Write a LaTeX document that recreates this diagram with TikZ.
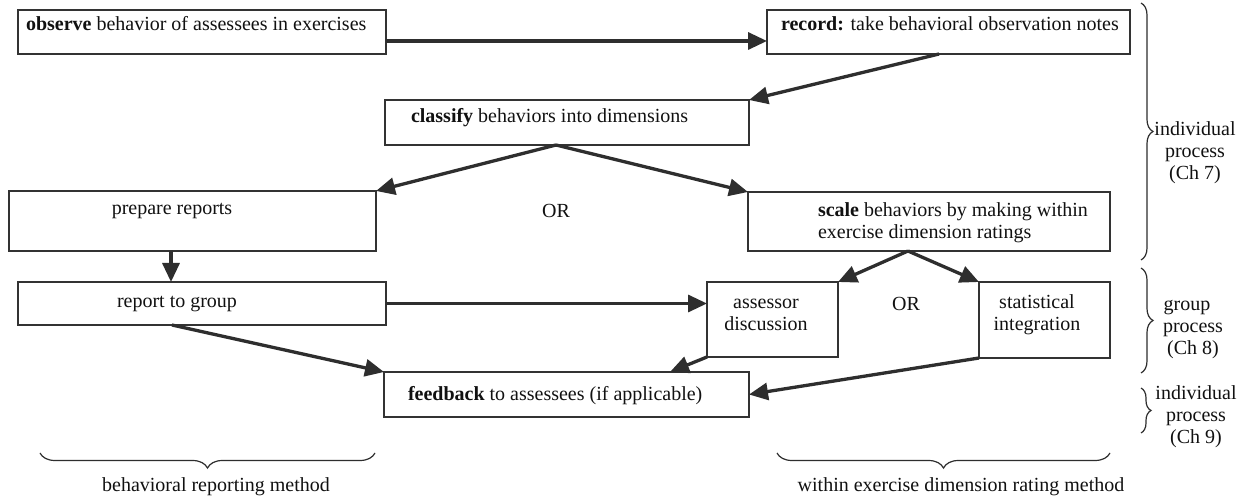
\documentclass[tikz,border=0pt]{standalone}
\usepackage{fontspec}
\setmainfont{Liberation Serif}
\usetikzlibrary{arrows.meta,decorations.pathreplacing}
\definecolor{boxc}{HTML}{333333}
\definecolor{arrc}{HTML}{2E2E2E}
\definecolor{txtc}{HTML}{111111}
\begin{document}
\begin{tikzpicture}[x=1pt,y=-1pt,
  box/.style={draw=boxc, line width=1.4pt, inner sep=0pt, outer sep=0pt, anchor=north west},
  txt/.style={inner sep=0pt, outer sep=0pt, font=\fontsize{20}{22}\selectfont, text=txtc},
  arr/.style={draw=arrc, line width=3.3pt, -{Triangle[length=19pt,width=17pt]}},
  brc/.style={draw=arrc, line width=1.2pt, decorate, decoration={brace, amplitude=#1}},
  brc/.default=12pt
]
\useasboundingbox (0,0) rectangle (1243,502);
\fill[white] (0,0) rectangle (1243,502);

% boxes
\node[box, minimum width=368pt, minimum height=44pt] (obs) at (18,10) {};
\node[box, minimum width=363pt, minimum height=44pt] (rec) at (767,10) {};
\node[box, minimum width=364pt, minimum height=45pt] (cla) at (385,100) {};
\node[box, minimum width=367pt, minimum height=60pt] (pre) at (9,191) {};
\node[box, minimum width=362pt, minimum height=59pt] (sca) at (748,192) {};
\node[box, minimum width=368pt, minimum height=43pt] (rep) at (18,282) {};
\node[box, minimum width=131pt, minimum height=75pt] (ass) at (707,282) {};
\node[box, minimum width=131pt, minimum height=76pt] (sta) at (979,282) {};
\node[box, minimum width=365pt, minimum height=45pt] (fee) at (384,372) {};

% texts
\node[txt, anchor=west] (tobs) at (26,24) {\textbf{observe} behavior of assessees in exercises};
\node[txt, anchor=west] (trec) at (781,24) {\textbf{record:} take behavioral observation notes};
\node[txt, anchor=west] (tcla) at (411,118) {\textbf{classify} behaviors into dimensions};
\node[txt] (tpre) at (172,211) {prepare reports};
\node[txt] (or1) at (556,211) {OR};
\node[txt, align=left, anchor=west] (tsca) at (818,222.5) {\textbf{scale} behaviors by making within\\exercise dimension ratings};
\node[txt] (trep) at (177,304) {report to group};
\node[txt, align=center] (tass) at (766,315) {assessor\\discussion};
\node[txt] (or2) at (906,304) {OR};
\node[txt, align=center] (tsta) at (1037,315) {statistical\\integration};
\node[txt, anchor=west] (tfee) at (408,396) {\textbf{feedback} to assessees (if applicable)};
\node[txt] (tbrm) at (216,487) {behavioral reporting method};
\node[txt] (twed) at (961,487) {within exercise dimension rating method};
\node[txt, align=center] (l7) at (1195,153) {individual\\process\\(Ch 7)};
\node[txt, align=center] (l8) at (1193,329) {group\hspace*{0.6em}\\process\\(Ch 8)};
\node[txt, align=center] (l9) at (1196,417) {individual\\process\\(Ch 9)};

% connectors
\draw[arr] ([yshift=-9pt]obs.east) -- ([yshift=-9pt]rec.west);
\draw[arr] ([xshift=-9.5pt]rec.south) -- (cla.north east);
\draw[arr] ([xshift=-11pt]cla.south) -- (pre.north east);
\draw[arr] ([xshift=-11pt]cla.south) -- (sca.north west);
\draw[arr] ([xshift=-21.5pt]pre.south) -- ([xshift=-21.5pt]pre.south |- rep.north);
\draw[arr] (rep.east) -- (ass.west |- rep.east);
\draw[arr] ([xshift=-21pt]sca.south) -- (ass.north east);
\draw[arr] ([xshift=-21pt]sca.south) -- (sta.north west);
\draw[arr] ([xshift=-30pt]rep.south) -- (fee.north west);
\draw[arr] (ass.south west) -- ([xshift=103.5pt]fee.north);
\draw[arr] (sta.south west) -- (fee.east);

% braces
\coordinate (b7a) at (1141,3);   \coordinate (b7b) at (1141,260);
\coordinate (b8a) at (1141,268); \coordinate (b8b) at (1141,373);
\coordinate (b9a) at (1141,388); \coordinate (b9b) at (1141,433);
\coordinate (bla) at (375,453);  \coordinate (blb) at (40,453);
\coordinate (bra) at (1110,453); \coordinate (brb) at (777,453);
\draw[brc] (b7a) -- (b7b);
\draw[brc] (b8a) -- (b8b);
\draw[brc=10pt] (b9a) -- (b9b);
\draw[brc=15pt] (bla) -- (blb);
\draw[brc=15pt] (bra) -- (brb);
\end{tikzpicture}
\end{document}
